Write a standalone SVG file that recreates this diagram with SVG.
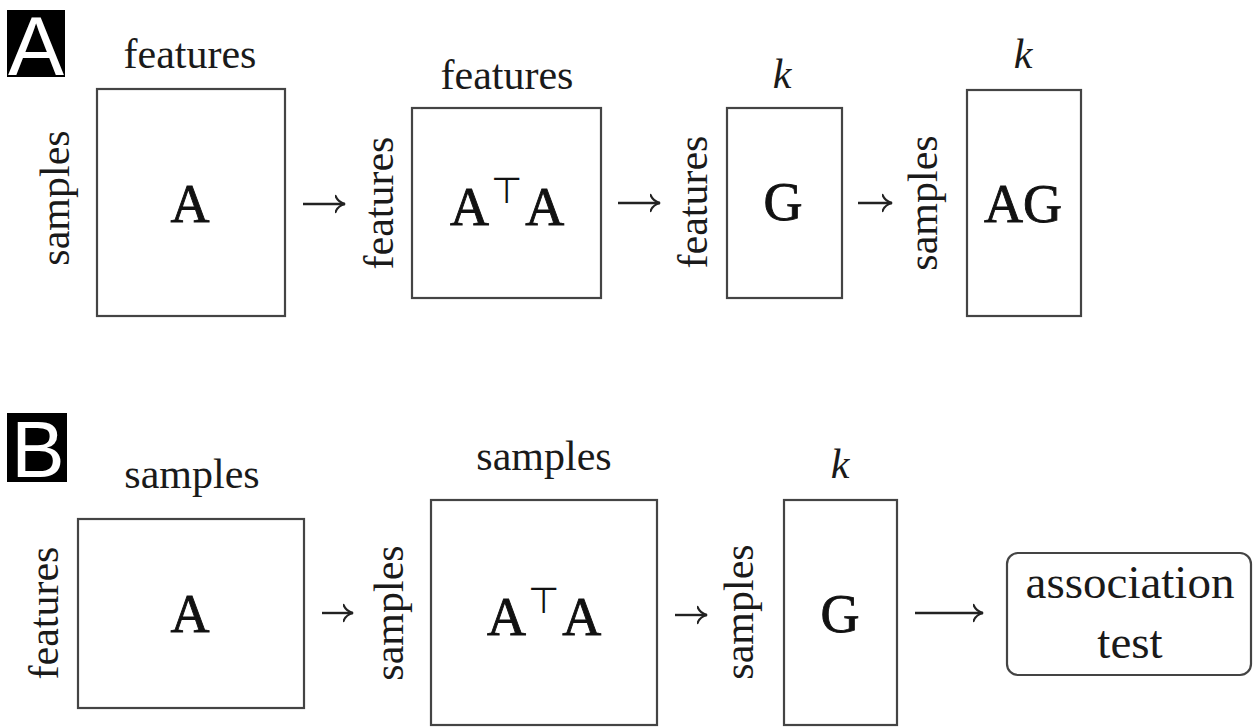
<svg xmlns="http://www.w3.org/2000/svg" width="1253" height="727" viewBox="0 0 1253 727">
  <style>
    .bg { fill: #ffffff; }
    .mat { fill: #ffffff; stroke: #444444; stroke-width: 2.2; }
    .lbl { font-family: "Liberation Serif", "Times New Roman", serif; font-size: 42px; fill: #1a1a1a; text-anchor: middle; }
    .var { font-family: "Liberation Serif", "Times New Roman", serif; font-size: 42px; font-style: italic; fill: #1a1a1a; text-anchor: middle; }
    .sym { font-family: "Liberation Serif", "Times New Roman", serif; font-size: 54px; fill: #111111; stroke: #111111; stroke-width: 0.9; }
    .symc { text-anchor: middle; }
    .top { font-family: "DejaVu Sans", sans-serif; font-size: 36px; stroke-width: 0; }
    .tag { fill: #000000; }
    .tagt { font-family: "Liberation Sans", Arial, sans-serif; fill: #ffffff; text-anchor: middle; }
    .arr { stroke: #222222; stroke-width: 2.4; fill: none; }
    .box { font-family: "Liberation Serif", "Times New Roman", serif; font-size: 47px; fill: #1a1a1a; text-anchor: middle; }
  </style>
  <defs>
    <marker id="head" viewBox="0 -10 12 20" refX="10.5" refY="0" markerWidth="12" markerHeight="20" markerUnits="userSpaceOnUse" orient="auto">
      <path d="M1,-8 C3,-3 6,-1 10.5,0 C6,1 3,3 1,8" stroke="#222222" stroke-width="2.2" fill="none" stroke-linecap="round"/>
    </marker>
  </defs>
  <rect class="bg" x="0" y="0" width="1253" height="727"/>

  <!-- panel tags -->
  <g id="tagA">
    <rect class="tag" x="7" y="10" width="58" height="67"/>
    <text class="tagt" x="36" y="75" font-size="84">A</text>
  </g>
  <g id="tagB">
    <rect class="tag" x="7" y="413" width="60" height="69"/>
    <text class="tagt" x="38" y="477" font-size="80">B</text>
  </g>

  <!-- panel A: samples x features input -->
  <g id="a-input">
    <rect class="mat" x="97" y="89" width="188" height="227"/>
    <text class="lbl" x="190" y="68">features</text>
    <text class="lbl" transform="translate(69,198) rotate(-90)">samples</text>
    <text class="sym symc" x="190" y="222">A</text>
  </g>
  <g id="a-gram">
    <rect class="mat" x="412" y="108" width="189" height="190"/>
    <text class="lbl" x="507" y="89">features</text>
    <text class="lbl" transform="translate(393,203) rotate(-90)">features</text>
    <text class="sym" x="450" y="225">A<tspan class="top" dx="2" dy="-22">⊤</tspan><tspan dx="3" dy="22">A</tspan></text>
  </g>
  <g id="a-g">
    <rect class="mat" x="727" y="108" width="115" height="190"/>
    <text class="var" x="782" y="88">k</text>
    <text class="lbl" transform="translate(707,202) rotate(-90)">features</text>
    <text class="sym symc" x="783" y="220">G</text>
  </g>
  <g id="a-ag">
    <rect class="mat" x="967" y="90" width="114" height="226"/>
    <text class="var" x="1023" y="68">k</text>
    <text class="lbl" transform="translate(937,203) rotate(-90)">samples</text>
    <text class="sym symc" x="1023" y="222">AG</text>
  </g>

  <!-- panel B: features x samples input -->
  <g id="b-input">
    <rect class="mat" x="78" y="519" width="226" height="189"/>
    <text class="lbl" x="192" y="488">samples</text>
    <text class="lbl" transform="translate(58,613) rotate(-90)">features</text>
    <text class="sym symc" x="190" y="632">A</text>
  </g>
  <g id="b-gram">
    <rect class="mat" x="431" y="500" width="226" height="225"/>
    <text class="lbl" x="544" y="470">samples</text>
    <text class="lbl" transform="translate(403,613) rotate(-90)">samples</text>
    <text class="sym" x="487" y="635">A<tspan class="top" dx="2" dy="-22">⊤</tspan><tspan dx="3" dy="22">A</tspan></text>
  </g>
  <g id="b-g">
    <rect class="mat" x="784" y="500" width="113" height="225"/>
    <text class="var" x="840" y="478">k</text>
    <text class="lbl" transform="translate(753,612) rotate(-90)">samples</text>
    <text class="sym symc" x="840" y="632">G</text>
  </g>
  <g id="b-test">
    <rect class="mat" x="1007" y="553" width="244" height="122" rx="11" ry="11"/>
    <text class="box" x="1130" y="598">association</text>
    <text class="box" x="1130" y="658">test</text>
  </g>

  <!-- connectors -->
  <g id="connectors">
    <line class="arr" x1="303" y1="204" x2="345" y2="204" marker-end="url(#head)"/>
    <line class="arr" x1="618" y1="203" x2="660" y2="203" marker-end="url(#head)"/>
    <line class="arr" x1="858" y1="203" x2="892" y2="203" marker-end="url(#head)"/>
    <line class="arr" x1="322" y1="613" x2="353" y2="613" marker-end="url(#head)"/>
    <line class="arr" x1="675" y1="615" x2="707" y2="615" marker-end="url(#head)"/>
    <line class="arr" x1="915" y1="613" x2="983" y2="613" marker-end="url(#head)"/>
  </g>
</svg>
